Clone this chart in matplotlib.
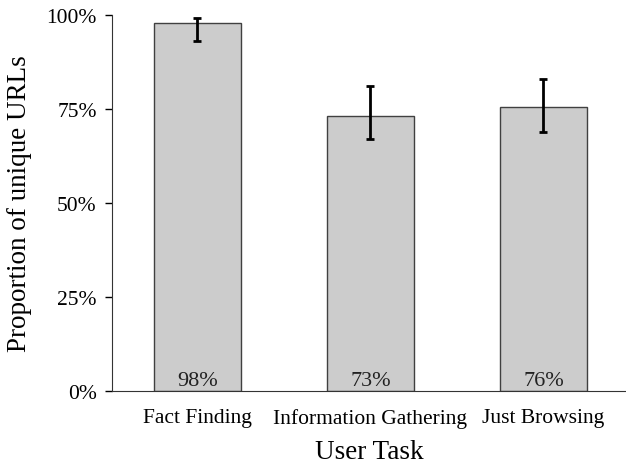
import matplotlib
matplotlib.use("Agg")
import matplotlib.pyplot as plt
import numpy as np

# data
tasks = ["Fact Finding", "Information Gathering", "Just Browsing"]
proportion = [0.979, 0.732, 0.756]
ci_low = [0.931, 0.670, 0.690]
ci_high = [0.991, 0.810, 0.831]
value_labels = ["98%", "73%", "76%"]
y_ticks = [0, 0.25, 0.5, 0.75, 1.0]
y_tick_labels = ["0%", "25%", "50%", "75%", "100%"]

plt.rcParams["font.family"] = ["Liberation Serif", "DejaVu Serif"]

fig = plt.figure(figsize=(6.26, 4.64), dpi=100)
ax = fig.add_axes([112 / 626, 1 - 392 / 464, 514 / 626, 376 / 464])

x = np.arange(len(tasks))
yerr = np.array([np.array(proportion) - np.array(ci_low),
                 np.array(ci_high) - np.array(proportion)])
ax.bar(x, proportion, width=0.5, color="#cccccc", edgecolor="#404040", linewidth=1)
ax.errorbar(x, proportion, yerr=yerr, fmt="none", ecolor="black",
            elinewidth=2, capsize=2.6, capthick=2)

for xi, lab in zip(x, value_labels):
    ax.text(xi, 0.003, lab, ha="center", va="bottom", fontsize=16, color="#222222")

ax.set_xlim(-0.494, 2.477)
ax.set_ylim(0, 1.0)
ax.set_yticks(y_ticks)
ax.set_yticklabels(y_tick_labels, fontsize=15.5)
ax.set_xticks(x)
ax.set_xticklabels(tasks, fontsize=15.5)
ax.tick_params(axis="x", length=0, pad=12)
ax.tick_params(axis="y", length=5, width=1, pad=6, direction="out")

ax.spines["top"].set_visible(False)
ax.spines["right"].set_visible(False)
ax.spines["left"].set_color("#333333")
ax.spines["bottom"].set_color("#333333")

ax.set_xlabel("User Task", fontsize=19.5, labelpad=8)
ax.set_ylabel("Proportion of unique URLs", fontsize=19.5, labelpad=10)

fig.savefig("out.png", dpi=100)
